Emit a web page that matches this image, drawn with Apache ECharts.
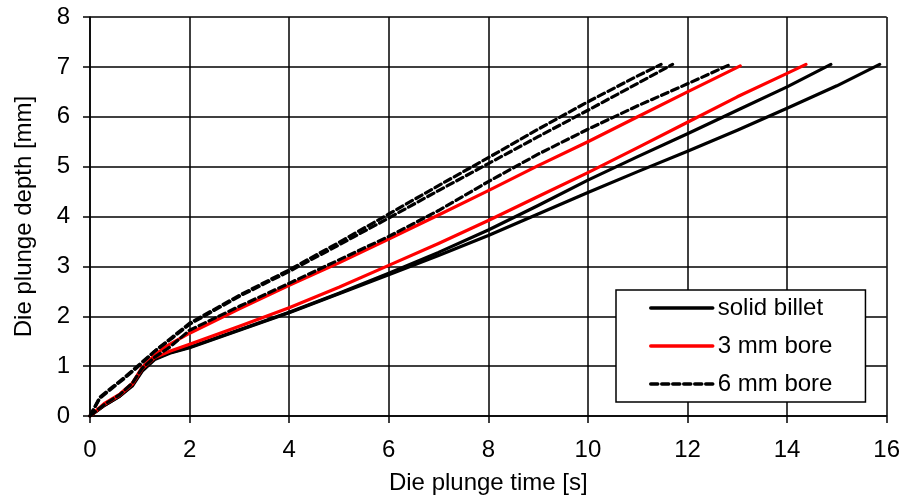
<!DOCTYPE html>
<html>
<head>
<meta charset="utf-8">
<script src="https://cdn.jsdelivr.net/npm/echarts@6/dist/echarts.min.js"></script>
<style>html,body{margin:0;padding:0;background:#fff}#c{width:903px;height:500px}</style>
</head>
<body>
<div id="c"></div>
<script>
// Tick labels / axis ranges
const xTicks = [0, 2, 4, 6, 8, 10, 12, 14, 16];
const yTicks = [0, 1, 2, 3, 4, 5, 6, 7, 8];
const seriesNames = ['solid billet', '3 mm bore', '6 mm bore'];

// solid billet (two tests)
const solid1 = [[0,0],[0.3,0.22],[0.6,0.4],[0.85,0.62],[1.05,0.92],[1.3,1.15],[1.6,1.27],[2,1.38],[3,1.73],[4,2.08],[5,2.46],[6,2.86],[7,3.28],[8,3.73],[9,4.22],[10,4.73],[11,5.2],[12,5.66],[13,6.13],[14,6.6],[14.88,7.05]];
const solid2 = [[0,0],[0.3,0.22],[0.6,0.4],[0.85,0.6],[1.05,0.9],[1.3,1.13],[1.6,1.26],[2,1.37],[3,1.72],[4,2.07],[5,2.45],[6,2.83],[7,3.22],[8,3.62],[9,4.05],[10,4.48],[11,4.9],[12,5.31],[13,5.73],[14,6.17],[15,6.62],[15.86,7.05]];
// 3 mm bore (two tests)
const bore3a = [[0,0],[0.3,0.26],[0.6,0.44],[0.85,0.66],[1.05,0.98],[1.3,1.22],[1.5,1.38],[2,1.66],[3,2.15],[4,2.62],[5,3.07],[6,3.55],[7,4.03],[8,4.52],[9,5.02],[10,5.5],[11,6.0],[12,6.5],[13.06,7.02]];
const bore3b = [[0,0],[0.3,0.24],[0.6,0.42],[0.85,0.64],[1.05,0.95],[1.3,1.17],[1.6,1.3],[2,1.44],[3,1.8],[4,2.17],[5,2.58],[6,3.02],[7,3.46],[8,3.92],[9,4.4],[10,4.88],[11,5.38],[12,5.89],[13,6.4],[14,6.87],[14.38,7.05]];
// 6 mm bore (three tests)
const bore6a = [[0,0],[0.2,0.36],[0.45,0.56],[0.7,0.76],[1.0,1.02],[1.3,1.3],[1.65,1.56],[2,1.84],[3,2.4],[4,2.9],[5,3.43],[6,3.97],[7,4.52],[8,5.06],[9,5.6],[10,6.13],[11,6.67],[11.7,7.05]];
const bore6b = [[0,0],[0.2,0.38],[0.45,0.58],[0.7,0.78],[1.0,1.04],[1.3,1.3],[1.65,1.58],[2,1.86],[3,2.42],[4,2.93],[5,3.48],[6,4.05],[7,4.62],[8,5.18],[9,5.75],[10,6.3],[11,6.82],[11.47,7.05]];
const bore6c = [[0,0],[0.3,0.24],[0.6,0.43],[0.85,0.66],[1.05,0.96],[1.3,1.18],[1.6,1.38],[2,1.72],[3,2.2],[4,2.66],[5,3.13],[6,3.6],[7,4.12],[8,4.7],[9,5.25],[10,5.75],[11,6.22],[12,6.66],[12.86,7.05]];

const FONT = 'Liberation Sans, Arial, sans-serif';
const chart = echarts.init(document.getElementById('c'), null, {renderer: 'canvas'});

function mk(name, data, color, dashed) {
  return {
    name: name, type: 'line', data: data, symbol: 'none', showSymbol: false,
    smooth: false, animation: false,
    lineStyle: {color: color, width: 3.2, type: dashed ? [7, 4] : 'solid', join: 'round', cap: 'round'},
    itemStyle: {color: color}
  };
}

chart.setOption({
  animation: false,
  backgroundColor: '#fff',
  grid: {left: 90, right: 12, top: 17, bottom: 82, show: false},
  xAxis: {
    type: 'value', min: xTicks[0], max: xTicks[xTicks.length - 1], interval: 2,
    name: 'Die plunge time [s]', nameLocation: 'middle', nameGap: 55,
    nameTextStyle: {fontFamily: FONT, fontSize: 24, color: '#000'},
    axisLine: {show: true, lineStyle: {color: '#000', width: 1.5}},
    axisTick: {show: true, inside: false, length: 7, lineStyle: {color: '#000', width: 1.5}},
    axisLabel: {fontFamily: FONT, fontSize: 24, color: '#000', margin: 22},
    splitLine: {show: true, lineStyle: {color: '#000', width: 1.5}}
  },
  yAxis: {
    type: 'value', min: yTicks[0], max: yTicks[yTicks.length - 1], interval: 1,
    name: 'Die plunge depth [mm]', nameLocation: 'middle', nameGap: 54, nameRotate: 90,
    nameTextStyle: {fontFamily: FONT, fontSize: 24, color: '#000'},
    axisLine: {show: true, lineStyle: {color: '#000', width: 1.5}},
    axisTick: {show: true, inside: false, length: 7, lineStyle: {color: '#000', width: 1.5}},
    axisLabel: {fontFamily: FONT, fontSize: 24, color: '#000', margin: 20},
    splitLine: {show: true, lineStyle: {color: '#000', width: 1.5}}
  },
  legend: {
    data: seriesNames,
    orient: 'vertical', left: 616, top: 290,
    itemWidth: 62, itemHeight: 14, itemGap: 14,
    padding: [6, 33, 6, 33],
    backgroundColor: '#fff', borderColor: '#000', borderWidth: 1.5, borderRadius: 0,
    textStyle: {fontFamily: FONT, fontSize: 24, color: '#000'},
    itemStyle: {opacity: 0},
    lineStyle: {width: 3.5},
    selectedMode: false
  },
  series: [
    mk(seriesNames[0], solid1, '#000000', false),
    mk(seriesNames[0], solid2, '#000000', false),
    mk(seriesNames[1], bore3a, '#ff0000', false),
    mk(seriesNames[1], bore3b, '#ff0000', false),
    mk(seriesNames[2], bore6a, '#000000', true),
    mk(seriesNames[2], bore6b, '#000000', true),
    mk(seriesNames[2], bore6c, '#000000', true)
  ]
});
</script>
</body>
</html>
